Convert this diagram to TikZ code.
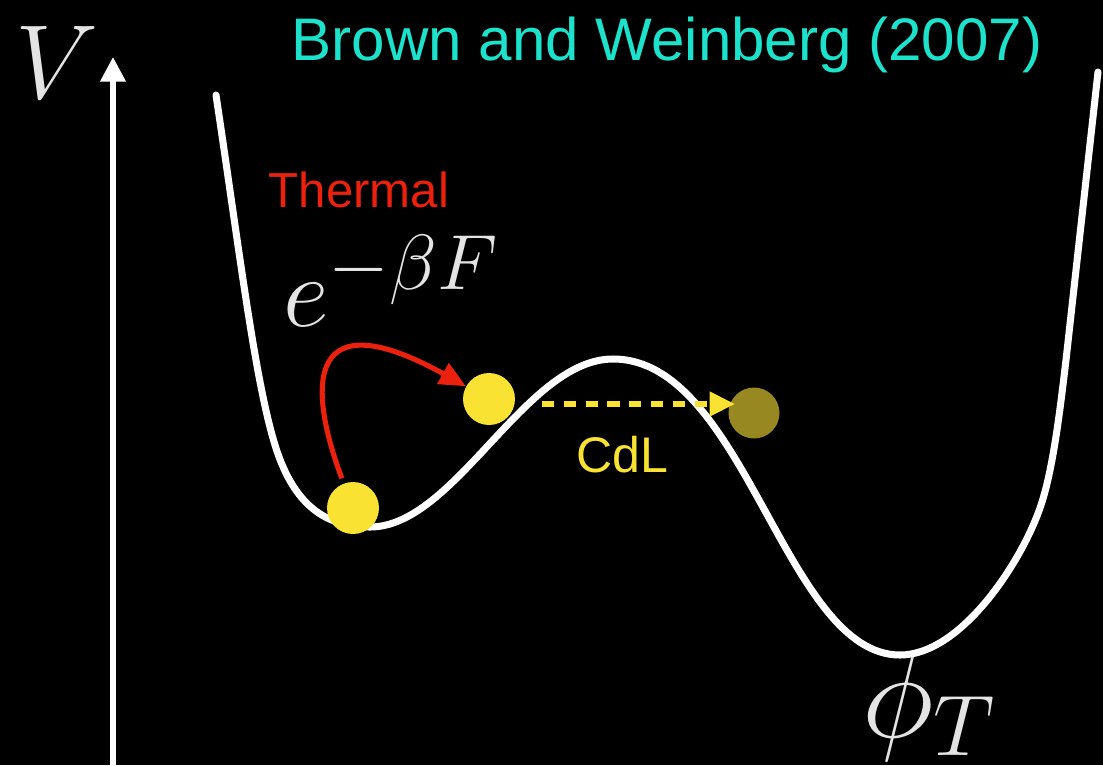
\RequirePackage{fix-cm}
\documentclass[tikz,border=0pt]{standalone}
\usepackage{fontspec}
\newfontfamily\arial{Liberation Sans}
\usetikzlibrary{arrows.meta}
\definecolor{titlecyan}{RGB}{28,226,204}
\definecolor{thermalred}{RGB}{235,33,13}
\definecolor{ballyellow}{RGB}{249,226,49}
\definecolor{balldark}{RGB}{152,136,34}
\definecolor{labelgray}{RGB}{228,228,228}
\tikzset{
  curve/.style={white, line width=4pt, line join=round, line cap=round},
  axisline/.style={white, line width=2.9pt, -{Triangle[length=14pt,width=14pt]}},
  thermalarrow/.style={thermalred, line width=2.9pt, -{Triangle[length=15pt,width=13pt]}},
  cdlarrow/.style={ballyellow, line width=3.1pt, dash pattern=on 7pt off 5.4pt, -{Triangle[length=14.5pt,width=13.5pt]}},
  ball/.style={circle, inner sep=0pt, minimum size=1.04cm, fill=ballyellow},
  darkball/.style={circle, inner sep=0pt, minimum size=1.02cm, fill=balldark},
  mathlabel/.style={text=labelgray, inner sep=0pt, anchor=base west},
  sanslabel/.style={inner sep=0pt, anchor=base}
}
\begin{document}
\begin{tikzpicture}[x=0.02cm, y=-0.02cm]
\fill[black] (0,0) rectangle (1103,765);
\useasboundingbox (0,0) rectangle (1103,765);
% axis
\coordinate (axbot) at (113,765);
\coordinate (axtop) at (113,57);
\draw[axisline] (axbot) -- (axtop);
% phi label (below the curve)
\node[mathlabel, font=\fontsize{70}{74}\selectfont] (phit) at (862,737) {$\phi_T$};
% potential curve
\draw[curve] (216,95) .. controls (240,255) and (255,380) .. (275,445)
  .. controls (295,510) and (330,527) .. (370,527)
  .. controls (455,527) and (525,359) .. (613,359)
  .. controls (745,359) and (785,655) .. (900,655)
  .. controls (960,655) and (1020,565) .. (1040,508)
  .. controls (1053,471) and (1060,410) .. (1066,360)
  -- (1098,72);
% balls
\node[ball] (b1) at (353,508) {};
\node[ball] (b2) at (489,399) {};
\node[darkball] (b3) at (754,413) {};
% arrows
\draw[thermalarrow, shorten <=3pt] (b1) .. controls (305,380) and (310,300) .. (b2);
\coordinate (cs) at (542,404);
\coordinate (ce) at (735,404);
\draw[cdlarrow] (cs) -- (ce);
% labels
\node[sanslabel, text=titlecyan, font=\arial\fontsize{34.2}{40}\selectfont] (title) at (667,60) {Brown and Weinberg (2007)};
\node[sanslabel, text=thermalred, font=\arial\fontsize{28}{32}\selectfont] (thermal) at (359,207) {Thermal};
\node[sanslabel, text=ballyellow, font=\arial\fontsize{28.5}{32}\selectfont] (cdl) at (622,472) {CdL};
\node[mathlabel, font=\fontsize{60}{64}\selectfont] (vlab) at (15,98) {$V$};
\node[mathlabel, font=\fontsize{57}{60}\selectfont] (rate) at (283,326) {$e^{\mbox{\fontsize{44.5}{48}\selectfont$-\beta F$}}$};
\end{tikzpicture}
\end{document}
